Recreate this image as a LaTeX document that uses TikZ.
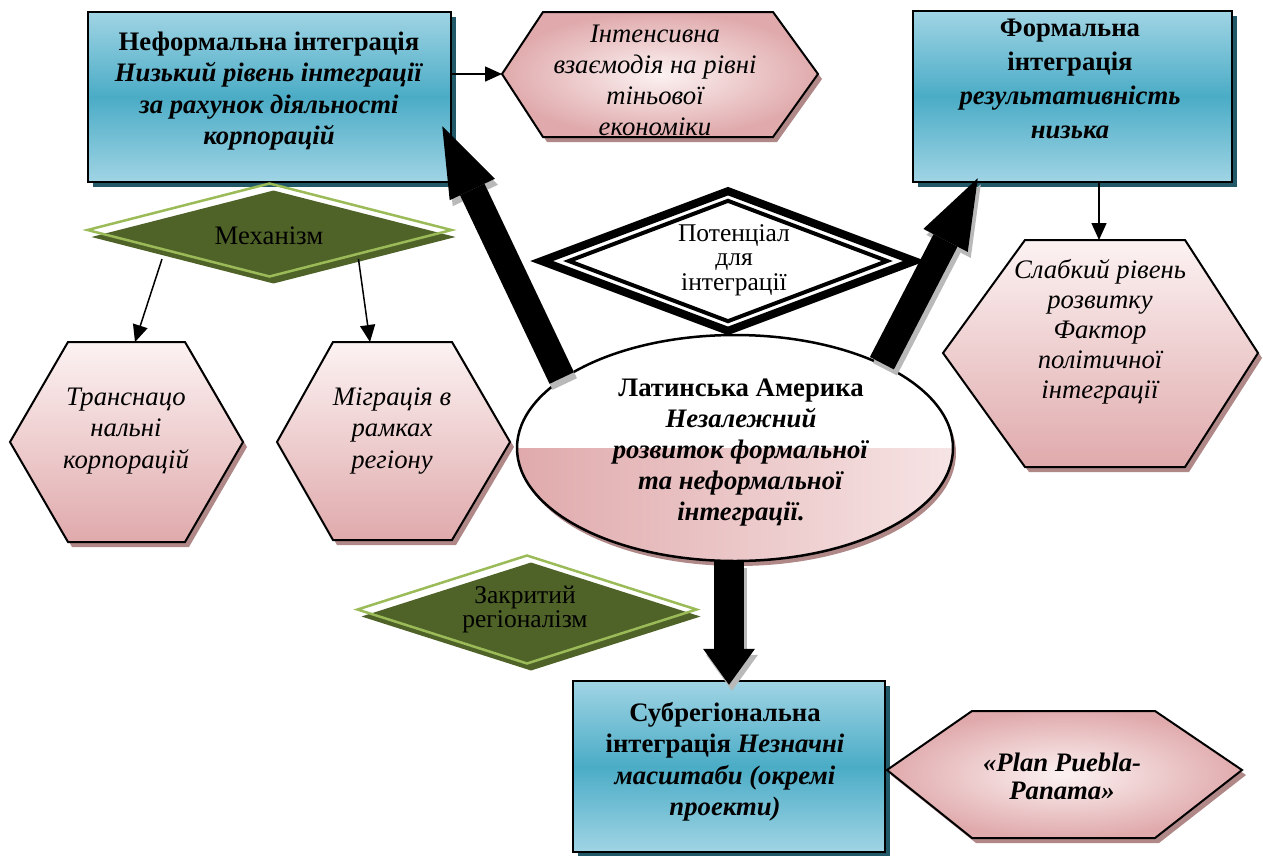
\documentclass[tikz,border=0pt]{standalone}
\usepackage{fontspec}
\setmainfont{Liberation Serif}
\usetikzlibrary{arrows.meta,shapes.geometric,shadows,calc}

\definecolor{boxlight}{RGB}{160,212,228}
\definecolor{boxmid}{RGB}{75,172,198}
\definecolor{boxshade}{RGB}{33,89,104}
\definecolor{pinkdeep}{RGB}{224,170,172}
\definecolor{pinklight}{RGB}{252,242,242}
\definecolor{pinkshade}{RGB}{176,136,136}
\definecolor{olive}{RGB}{79,98,40}
\definecolor{leaf}{RGB}{155,187,89}
\definecolor{arrowshade}{RGB}{185,185,185}

\begin{document}
\begin{tikzpicture}[x=1pt,y=-1pt,
  txt/.style={align=center, inner sep=0pt},
  bluebox/.style={rectangle, draw=black, line width=2.5pt, inner sep=0pt,
    top color=boxlight, bottom color=boxlight, middle color=boxmid,
    drop shadow={shadow xshift=5pt, shadow yshift=-5pt, fill=boxshade, opacity=1}},
  hexbase/.style={draw=black, line width=2pt, line join=miter,
    drop shadow={shadow xshift=4pt, shadow yshift=-5pt, fill=pinkshade, opacity=1}},
  hexvert/.style={hexbase, top color=pinklight, bottom color=pinkdeep},
  hexradial/.style={hexbase, inner color=pinklight, outer color=pinkdeep},
  greendiamond/.style={diamond, draw=leaf, line width=2.5pt, inner sep=0pt,
    drop shadow={shadow xshift=4pt, shadow yshift=-7pt, fill=olive, opacity=1}},
  thinarrow/.style={line width=1.5pt, -{Triangle[length=17pt,width=15pt]}},
  bigarrow/.style={line width=27pt, -{Triangle[length=70pt,width=50pt,line width=0pt]}},
  downarrow/.style={line width=30pt, -{Triangle[length=36pt,width=52pt,line width=0pt]}},
  arrowshadow/.style={draw=arrowshade, transform canvas={xshift=3pt,yshift=-6pt}}
]
\useasboundingbox (0,0) rectangle (1263,855);
\fill[white] (0,0) rectangle (1263,855);

% blue boxes
\node[bluebox, minimum width=363pt, minimum height=170pt] (nef) at (269.5,97) {};
\node[bluebox, minimum width=319pt, minimum height=171pt] (form) at (1072.5,96.5) {};
\node[bluebox, minimum width=312pt, minimum height=171pt] (sub) at (729,766.5) {};

% hexagons
\path[hexradial] (502,74) coordinate (intensW) -- (543,12) -- (773,12) -- (818,74) -- (773,137) -- (543,137) -- cycle;
\path[hexvert] (943,353) -- (1025,240) -- (1185,240) -- (1258,353) -- (1185,467) -- (1025,467) -- cycle;
\coordinate (slabN) at (1099,240);
\path[hexvert] (10,442) -- (68,342) -- (185,342) -- (243,442) -- (185,542) -- (68,542) -- cycle;
\coordinate (transN) at (135,342);
\path[hexvert] (277,442) -- (333,342) -- (452,342) -- (510,442) -- (452,540) -- (333,540) -- cycle;
\coordinate (migrN) at (370,342);
\path[hexradial] (887,770) -- (972,711) -- (1155,711) -- (1242,770) -- (1155,838) -- (972,838) -- cycle;

% central ellipse, white above and shaded below
\node[ellipse, draw=black, line width=2.5pt, fill=white, minimum width=436pt, minimum height=226pt,
  drop shadow={shadow xshift=3pt, shadow yshift=-5pt, fill=pinkshade, opacity=1},
  path picture={\fill[left color=pinkdeep, right color=pinklight!80!pinkdeep]
    (path picture bounding box.west) rectangle (path picture bounding box.south east);}]
  (lat) at (735,448) {};

% double-framed diamond
\node[diamond, draw=black, line width=8pt, fill=white, inner sep=0pt,
  minimum width=376pt, minimum height=143pt] (pot) at (728,261) {};
\node[diamond, draw=black, line width=4pt, inner sep=0pt,
  minimum width=320pt, minimum height=122pt] (potin) at (728,261) {};

% green diamonds
\node[greendiamond, minimum width=365pt, minimum height=94pt] (mech) at (269.5,230) {};
\node[greendiamond, minimum width=340pt, minimum height=109pt] (zakr) at (527,609.5) {};

% texts
\node[txt, font=\fontsize{26.7}{31.5}\selectfont\bfseries] (nefT) at (269,91)
  {Неформальна інтеграція\\\textit{Низький рівень інтеграції}\\\textit{за рахунок діяльності}\\\textit{корпорацій}};
\node[txt, font=\fontsize{26.7}{34}\selectfont\bfseries] (formT) at (1070,79)
  {Формальна\\інтеграція\\\textit{результативність}\\\textit{низька}};
\node[txt, font=\fontsize{26.7}{31.5}\selectfont\bfseries] (subT) at (725,762)
  {Субрегіональна\\інтеграція \textit{Незначні}\\\textit{масштаби (окремі}\\\textit{проекти)}};
\node[txt, font=\fontsize{26.7}{31}\selectfont\itshape] (intensT) at (655,80)
  {Інтенсивна\\взаємодія на рівні\\тіньової\\економіки};
\node[txt, font=\fontsize{26.7}{30}\selectfont\itshape] (slabT) at (1100,332)
  {Слабкий рівень\\розвитку\\Фактор\\політичної\\інтеграції};
\node[txt, font=\fontsize{26.7}{31.5}\selectfont\itshape] (transT) at (126,431)
  {Транснацо\\нальні\\корпорацій};
\node[txt, font=\fontsize{26.7}{31.5}\selectfont\itshape] (migrT) at (392,431)
  {Міграція в\\рамках\\регіону};
\node[txt, font=\fontsize{26.7}{31}\selectfont\bfseries] (latT) at (741,453)
  {Латинська Америка\\\textit{Незалежний}\\\textit{розвиток формальної}\\\textit{та неформальної}\\\textit{інтеграції.}};
\node[txt, font=\fontsize{26.7}{28}\selectfont\bfseries\itshape] (planT) at (1062,776)
  {«Plan Puebla-\\Panama»};
\node[txt, font=\fontsize{25.5}{24.5}\selectfont] (potT) at (734,260)
  {Потенціал\\для\\інтеграції};
\node[txt, font=\fontsize{26.7}{26}\selectfont] (mechT) at (269,236) {Механізм};
\node[txt, font=\fontsize{25.5}{24}\selectfont] (zakrT) at (525,609)
  {Закритий\\регіоналізм};

% thin connectors
\draw[thinarrow] (nef.east |- intensW) -- (intensW);
\draw[thinarrow] (form.south -| slabN) -- (slabN);
\draw[thinarrow] ($(mech.west)!0.415!(mech.south)+(0,9)$) -- (transN);
\draw[thinarrow] ($(mech.east)!0.516!(mech.south)+(0,4)$) -- (migrN);

% heavy arrows from the ellipse
\coordinate (tipL) at ($(nef.south east)+(-10,-57)$);
\coordinate (tipR) at ($(form.south west)+(66,-5)$);
\coordinate (tipD) at ($(sub.north)+(0,5)$);
\draw[bigarrow, arrowshadow] (lat.158) -- (tipL);
\draw[bigarrow, arrowshadow] (lat.30) -- (tipR);
\draw[downarrow, arrowshadow] (lat.south -| sub.north) -- (tipD);
\draw[bigarrow] (lat.158) -- (tipL);
\draw[bigarrow] (lat.30) -- (tipR);
\draw[downarrow] (lat.south -| sub.north) -- (tipD);
\end{tikzpicture}
\end{document}
